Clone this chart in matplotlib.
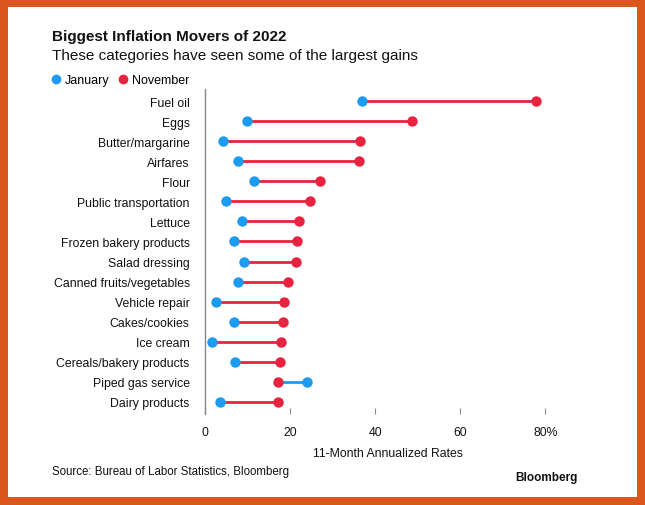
import matplotlib
matplotlib.use("Agg")
import matplotlib.pyplot as plt
from matplotlib.lines import Line2D
from matplotlib.patches import Rectangle

plt.rcParams["font.family"] = ["Liberation Sans", "DejaVu Sans"]

# values (11-month annualized rates, %)
categories = [
    "Fuel oil", "Eggs", "Butter/margarine", "Airfares", "Flour",
    "Public transportation", "Lettuce", "Frozen bakery products",
    "Salad dressing", "Canned fruits/vegetables", "Vehicle repair",
    "Cakes/cookies", "Ice cream", "Cereals/bakery products",
    "Piped gas service", "Dairy products",
]
january = [36.8, 9.9, 4.3, 7.7, 11.5, 4.9, 8.8, 6.9, 9.2, 7.8, 2.5, 6.9, 1.7, 7.1, 24.0, 3.6]
november = [77.8, 48.6, 36.5, 36.1, 27.1, 24.7, 22.1, 21.7, 21.4, 19.6, 18.5, 18.3, 17.9, 17.6, 17.2, 17.1]
xticks = [0, 20, 40, 60, 80]
xtick_labels = ["0", "20", "40", "60", "80%"]

blue = "#1d9bf0"
red = "#e8233f"
orange = "#dc5720"

W, H = 645, 506
fig = plt.figure(figsize=(W / 100, H / 100), dpi=100, facecolor=orange)
# white card inside the orange frame
fig.patches.append(Rectangle((8 / W, 8.5 / H), 629 / W, 489.5 / H,
                             transform=fig.transFigure, facecolor="white",
                             edgecolor="none", zorder=-10))

ax = fig.add_axes([205 / W, (H - 415) / H, 366 / W, 325 / H])
ax.set_facecolor("none")

ys = list(range(len(categories)))
for y, j, n in zip(ys, january, november):
    ax.plot([j, n], [y, y], color=red if n >= j else blue, lw=2.0,
            solid_capstyle="butt", zorder=2, clip_on=False)
ax.plot(january, ys, "o", color=blue, ms=7.5, mew=0, zorder=3, clip_on=False)
ax.plot(november, ys, "o", color=red, ms=7.5, mew=0, zorder=3, clip_on=False)

ax.set_xlim(0, 86)
ax.set_ylim(15.6, -0.6)
ax.set_yticks(ys)
ax.set_yticklabels(categories, fontsize=8.8, color="#111111")
ax.set_xticks(xticks)
ax.set_xticklabels(xtick_labels, fontsize=8.8, color="#111111")
ax.tick_params(axis="y", length=0, pad=11)
ax.tick_params(axis="x", direction="in", length=4, width=0.8, color="#888888", pad=9)
for s in ["top", "right", "bottom"]:
    ax.spines[s].set_visible(False)
ax.spines["left"].set_color("#888888")
ax.spines["left"].set_linewidth(1)
ax.set_xlabel("11-Month Annualized Rates", fontsize=8.8, color="#111111", labelpad=6)

fig.text(52 / W, 1 - 37.5 / H, "Biggest Inflation Movers of 2022", fontsize=11,
         fontweight="bold", va="center", ha="left", color="#111111")
fig.text(52 / W, 1 - 56 / H, "These categories have seen some of the largest gains",
         fontsize=11, va="center", ha="left", color="#111111")

handles = [Line2D([], [], marker="o", ls="none", color=blue, ms=7, mew=0),
           Line2D([], [], marker="o", ls="none", color=red, ms=7, mew=0)]
fig.legend(handles, ["January", "November"], loc="center left",
           bbox_to_anchor=(52 / W, 1 - 81 / H), ncol=2, frameon=False,
           fontsize=9.0, handlelength=0.6, handletextpad=0.4, columnspacing=0.8,
           borderpad=0, borderaxespad=0)

fig.text(52 / W, 1 - 472 / H, "Source: Bureau of Labor Statistics, Bloomberg",
         fontsize=8.3, va="center", ha="left", color="#111111")
fig.text(578 / W, 1 - 478 / H, "Bloomberg", fontsize=8.5, fontweight="bold",
         va="center", ha="right", color="#111111")

fig.savefig("out.png", dpi=100, facecolor=orange)
